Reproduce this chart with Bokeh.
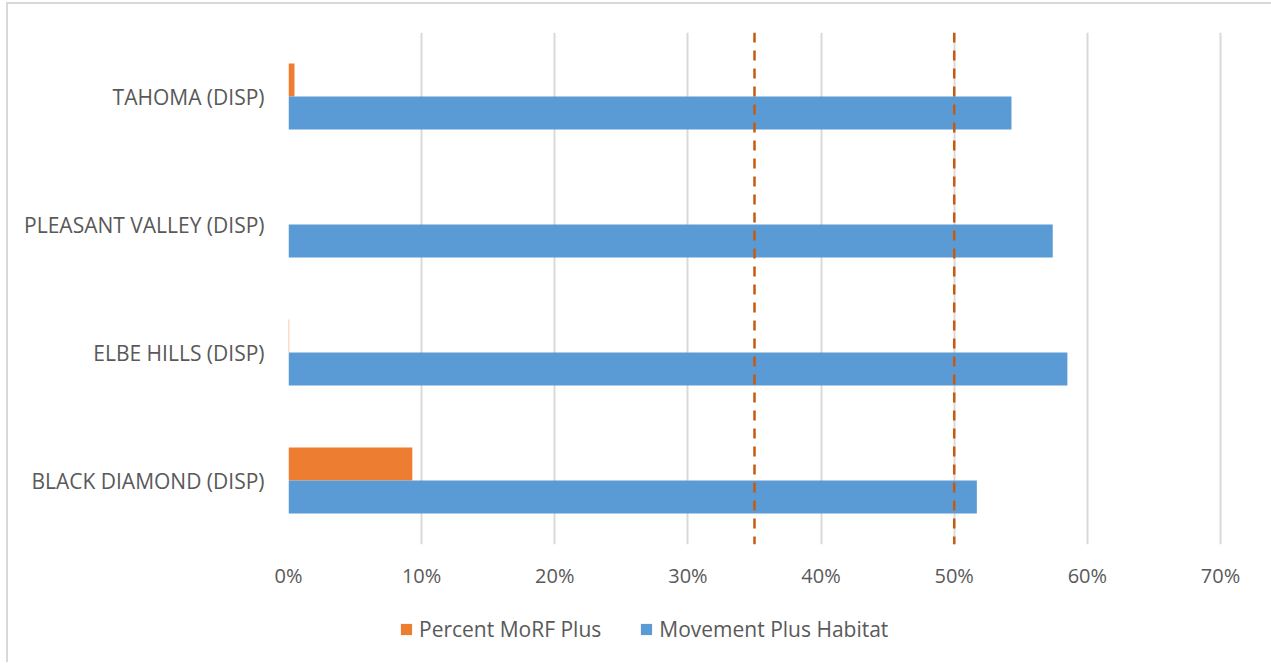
from bokeh.plotting import figure
from bokeh.layouts import column
from bokeh.models import (Range1d, FactorRange, Legend, LegendItem, Span,
                          FixedTicker, NumeralTickFormatter, ColumnDataSource)
from bokeh.transform import dodge
from bokeh.embed import file_html
from bokeh.resources import INLINE

# Districts, listed bottom to top
districts = ["BLACK DIAMOND (DISP)", "ELBE HILLS (DISP)",
             "PLEASANT VALLEY (DISP)", "TAHOMA (DISP)"]
percent_morf_plus = [0.093, 0.0005, 0.0, 0.0045]
movement_plus_habitat = [0.517, 0.585, 0.574, 0.543]

x_ticks = [0.0, 0.1, 0.2, 0.3, 0.4, 0.5, 0.6, 0.7]
thresholds = [0.35, 0.50]

series_labels = ["Percent MoRF Plus", "Movement Plus Habitat"]

FONT = "Open Sans"
TEXT = "#595959"
ORANGE = "#ED7D31"
BLUE = "#5B9BD5"
GRID = "#D9D9D9"

source = ColumnDataSource(dict(
    district=districts,
    morf=percent_morf_plus,
    habitat=movement_plus_habitat,
))

p = figure(
    width=1263, height=600,
    x_range=Range1d(0, 0.7015),
    y_range=FactorRange(*districts, range_padding=0),
    output_backend="svg", toolbar_location=None,
    min_border_left=280, min_border_right=49,
    min_border_top=28, min_border_bottom=60,
)
p.outline_line_color = None

bar_h = 0.258
p.hbar(y=dodge("district", bar_h / 2, range=p.y_range), right="morf",
       height=bar_h, left=0, source=source,
       fill_color=ORANGE, line_color=None)
p.hbar(y=dodge("district", -bar_h / 2, range=p.y_range), right="habitat",
       height=bar_h, left=0, source=source,
       fill_color=BLUE, line_color=None)

for t in thresholds:
    p.add_layout(Span(location=t, dimension="height", line_color="#C55A11",
                      line_width=2.5, line_dash="10 8"))

# x axis
p.xaxis.ticker = FixedTicker(ticks=x_ticks)
p.xaxis.formatter = NumeralTickFormatter(format="0%")
p.xaxis.axis_line_color = None
p.xaxis.major_tick_line_color = None
p.xaxis.minor_tick_line_color = None
p.xaxis.major_tick_out = 0
p.xaxis.major_label_standoff = 17
p.xaxis.major_label_text_font = FONT
p.xaxis.major_label_text_font_size = "20px"
p.xaxis.major_label_text_color = TEXT

# y axis
p.yaxis.axis_line_color = None
p.yaxis.major_tick_line_color = None
p.yaxis.minor_tick_line_color = None
p.yaxis.major_tick_out = 0
p.yaxis.major_label_standoff = 24
p.yaxis.major_label_text_font = FONT
p.yaxis.major_label_text_font_size = "21px"
p.yaxis.major_label_text_color = TEXT

p.xgrid.grid_line_color = GRID
p.xgrid.grid_line_width = 2
p.ygrid.grid_line_color = None

# Legend strip underneath the chart (its frame lines up with the chart's)
leg = figure(
    width=1263, height=58,
    x_range=Range1d(0, 1), y_range=Range1d(0, 1),
    output_backend="svg", toolbar_location=None,
    x_axis_location=None, y_axis_location=None,
    min_border=0,
)
leg.outline_line_color = None
leg.xgrid.grid_line_color = None
leg.ygrid.grid_line_color = None
# legend keys: one swatch each, parked outside the visible range
key_morf = leg.hbar(y=[-5], left=[0], right=[0.1], height=0.1,
                    fill_color=ORANGE, line_color=None)
key_hab = leg.hbar(y=[-5], left=[0], right=[0.1], height=0.1,
                   fill_color=BLUE, line_color=None)

legend = Legend(
    items=[LegendItem(label=series_labels[0], renderers=[key_morf]),
           LegendItem(label=series_labels[1], renderers=[key_hab])],
    orientation="horizontal",
    location=(111, 19),
    label_text_font=FONT, label_text_font_size="21px", label_text_color=TEXT,
    glyph_width=14, glyph_height=14, label_standoff=6, spacing=38,
    padding=0, margin=0, border_line_color=None, background_fill_alpha=0,
)
leg.add_layout(legend, "center")

layout = column(p, leg, spacing=0, margin=(2, 0, 0, 6),
                styles={"border-top": f"2px solid {GRID}",
                        "border-left": f"2px solid {GRID}"})

open("out.html", "w").write(file_html(layout, INLINE))
